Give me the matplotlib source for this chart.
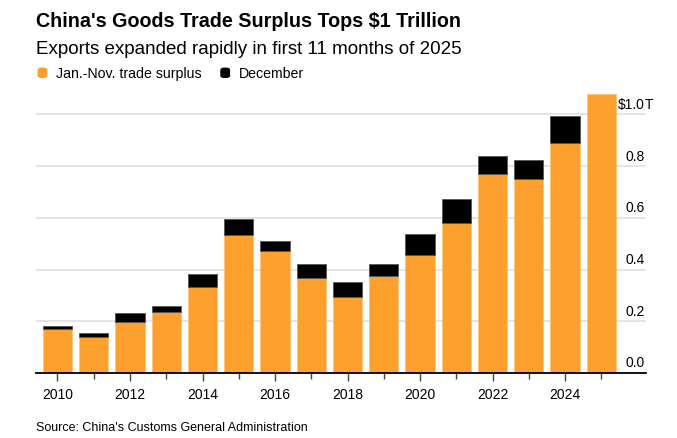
import matplotlib
matplotlib.use("Agg")
import matplotlib.pyplot as plt
import numpy as np
from matplotlib.patches import FancyBboxPatch
from matplotlib.ticker import FixedLocator, NullFormatter

# trillions of dollars
years = list(range(2010, 2026))
jan_nov = [0.170, 0.138, 0.199, 0.235, 0.334, 0.535, 0.471, 0.366,
           0.295, 0.375, 0.458, 0.579, 0.771, 0.749, 0.891, 1.079]
december = [0.012, 0.017, 0.032, 0.024, 0.050, 0.061, 0.040, 0.054,
            0.058, 0.047, 0.078, 0.094, 0.070, 0.076, 0.104, 0.0]
y_ticks = [0.0, 0.2, 0.4, 0.6, 0.8, 1.0]
y_labels = ["0.0", "0.2", "0.4", "0.6", "0.8", "1.0"]
x_labels = [str(y) for y in range(2010, 2025, 2)]

ORANGE = "#fea02e"
W, H = 677, 439

plt.rcParams['font.family'] = ['Liberation Sans', 'DejaVu Sans']
fig = plt.figure(figsize=(W / 100, H / 100), dpi=100)

# plot area in pixels
left, right, base, top = 36, 646, 374, 89.6
ax = fig.add_axes([left / W, 1 - base / H, (right - left) / W, (base - top) / H])
ax.set_xlim(2009.407, 2026.234)
ax.set_ylim(0, 1.1)

for s in ['top', 'right', 'left']:
    ax.spines[s].set_visible(False)
ax.spines['bottom'].set_color('black')
ax.spines['bottom'].set_linewidth(1.3)

for t in y_ticks[1:]:
    ax.axhline(t, color='#dcdcdc', lw=1.1, zorder=0)

x = np.array(years)
jn = np.array(jan_nov)
dec = np.array(december)
ax.bar(x, jn, width=0.81, color=ORANGE, edgecolor='#ffbe70', linewidth=0.4, zorder=2)
has_dec = dec > 0
ax.bar(x[has_dec], dec[has_dec], width=0.81, bottom=jn[has_dec], color='black',
       edgecolor='#555555', linewidth=0.6, zorder=2)

ax.xaxis.set_major_locator(FixedLocator(list(range(2010, 2025, 2))))
ax.set_xticklabels(x_labels)
ax.xaxis.set_minor_locator(FixedLocator(list(range(2011, 2026, 2))))
ax.xaxis.set_minor_formatter(NullFormatter())
ax.tick_params(axis='x', which='major', length=6, width=1, color='#444444',
               labelsize=10, pad=4)
ax.tick_params(axis='x', which='minor', length=4, width=1, color='#444444')
ax.set_yticks([])

# right-hand value labels, sitting just above their grid lines
for t, lab in zip(y_ticks, y_labels):
    yy = 1 - (base - t * 258.5 - 6.5) / H
    if t == 1.0:
        fig.text(645 / W, yy, "$" + lab, ha='right', va='baseline', fontsize=10)
        fig.text(645 / W, yy, "T", ha='left', va='baseline', fontsize=10)
    else:
        fig.text(645 / W, yy, lab, ha='right', va='baseline', fontsize=10)

# titles
fig.text(36 / W, 1 - 26.7 / H, "China's Goods Trade Surplus Tops $1 Trillion",
         fontsize=14.2, fontweight='bold', va='baseline')
fig.text(36 / W, 1 - 54 / H, "Exports expanded rapidly in first 11 months of 2025",
         fontsize=13.5, va='baseline')

# legend
for x0, col, lab, tx in [(38.3, ORANGE, "Jan.-Nov. trade surplus", 56),
                         (221, 'black', "December", 239)]:
    fig.patches.append(FancyBboxPatch((x0 / W, 1 - 78.3 / H), 8.4 / W, 9 / H,
                                      boxstyle="round,pad=0,rounding_size=0.004",
                                      transform=fig.transFigure, color=col))
    fig.text(tx / W, 1 - 77.7 / H, lab, fontsize=10.2, va='baseline')

fig.text(36 / W, 1 - 431 / H, "Source: China's Customs General Administration",
         fontsize=9, va='baseline')

fig.savefig("out.png", dpi=100)
